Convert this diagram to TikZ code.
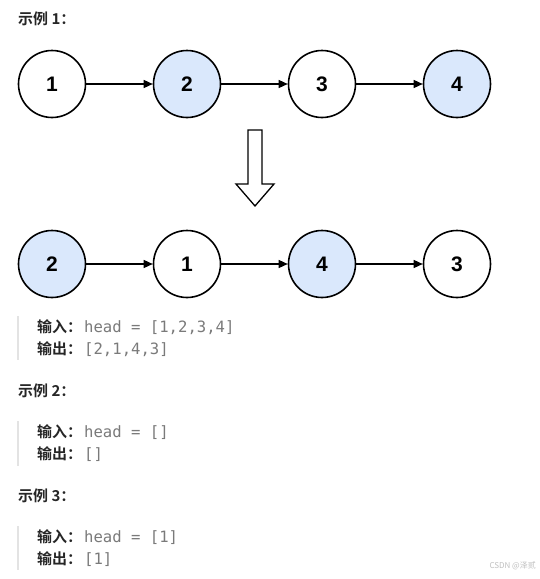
\documentclass[tikz,border=0pt]{standalone}
\usepackage{fontspec}
\setmainfont{Liberation Sans}
\setmonofont{DejaVu Sans Mono}
\newfontfamily\cjk{Noto Sans CJK SC}
\newfontfamily\cjkb{Noto Sans CJK SC}[BoldFont={Noto Sans CJK SC Bold}]
\usetikzlibrary{arrows.meta}
\definecolor{nodeblue}{HTML}{DAE8FC}
\definecolor{codegray}{HTML}{7A7A7A}
\definecolor{bargray}{HTML}{E3E3E3}
\definecolor{headcol}{HTML}{262626}
\tikzset{
  lnode/.style={circle,draw=black,line width=1.6pt,minimum size=67pt,inner sep=0pt,font=\bfseries\fontsize{21}{24}\selectfont},
  bluenode/.style={lnode,fill=nodeblue},
  whitenode/.style={lnode,fill=white},
  link/.style={draw=black,line width=1.3pt,-{Triangle[length=9pt,width=8pt]}},
  heading/.style={anchor=west,inner sep=0pt,text=headcol,font=\cjkb\bfseries\fontsize{15}{18}\selectfont},
  label/.style={anchor=base west,inner sep=0pt,text=headcol,font=\cjkb\bfseries\fontsize{15}{18}\selectfont},
  code/.style={anchor=base west,inner sep=0pt,text=codegray,font=\ttfamily\fontsize{15.6}{18}\selectfont},
  quotebar/.style={draw=bargray,line width=2pt}
}
\begin{document}
\begin{tikzpicture}[x=1pt,y=-1pt]
\useasboundingbox[fill=white] (0,0) rectangle (540,579);

\node[heading] (h1) at (18,19) {示例 1：};

% top row
\node[whitenode] (a1) at (52,84) {1};
\node[bluenode]  (a2) at (187,84) {2};
\node[whitenode] (a3) at (322,84) {3};
\node[bluenode]  (a4) at (457,84) {4};
\draw[link] (a1) -- (a2);
\draw[link] (a2) -- (a3);
\draw[link] (a3) -- (a4);

% hollow arrow
\draw[line width=1.3pt,fill=white,line join=miter] (248,130) -- (262,130) -- (262,184) -- (274,184) -- (255,206) -- (236,184) -- (248,184) -- cycle;

% bottom row
\node[bluenode]  (b1) at (52,264) {2};
\node[whitenode] (b2) at (187,264) {1};
\node[bluenode]  (b3) at (322,264) {4};
\node[whitenode] (b4) at (457,264) {3};
\draw[link] (b1) -- (b2);
\draw[link] (b2) -- (b3);
\draw[link] (b3) -- (b4);

% example 1 text
\coordinate (q1t) at (18,316);
\coordinate (q1b) at (18,360);
\draw[quotebar] (q1t) -- (q1b);
\node[label] (in1) at (37,332) {输入：};
\node[code] (ic1) at (84,332) {head = [1,2,3,4]};
\node[label] (out1) at (37,354) {输出：};
\node[code] (oc1) at (84,354) {[2,1,4,3]};

\node[heading] (h2) at (18,391) {示例 2：};
\coordinate (q2t) at (18,421);
\coordinate (q2b) at (18,466);
\draw[quotebar] (q2t) -- (q2b);
\node[label] (in2) at (37,437) {输入：};
\node[code] (ic2) at (84,437) {head = []};
\node[label] (out2) at (37,459) {输出：};
\node[code] (oc2) at (84,459) {[]};

\node[heading] (h3) at (18,496) {示例 3：};
\coordinate (q3t) at (18,526);
\coordinate (q3b) at (18,570);
\draw[quotebar] (q3t) -- (q3b);
\node[label] (in3) at (37,542) {输入：};
\node[code] (ic3) at (84,542) {head = [1]};
\node[label] (out3) at (37,564) {输出：};
\node[code] (oc3) at (84,564) {[1]};

\node[anchor=east,inner sep=0pt,text=black!25,font=\cjk\fontsize{8}{10}\selectfont] (wm) at (536,566) {CSDN @泽贰};
\end{tikzpicture}
\end{document}
